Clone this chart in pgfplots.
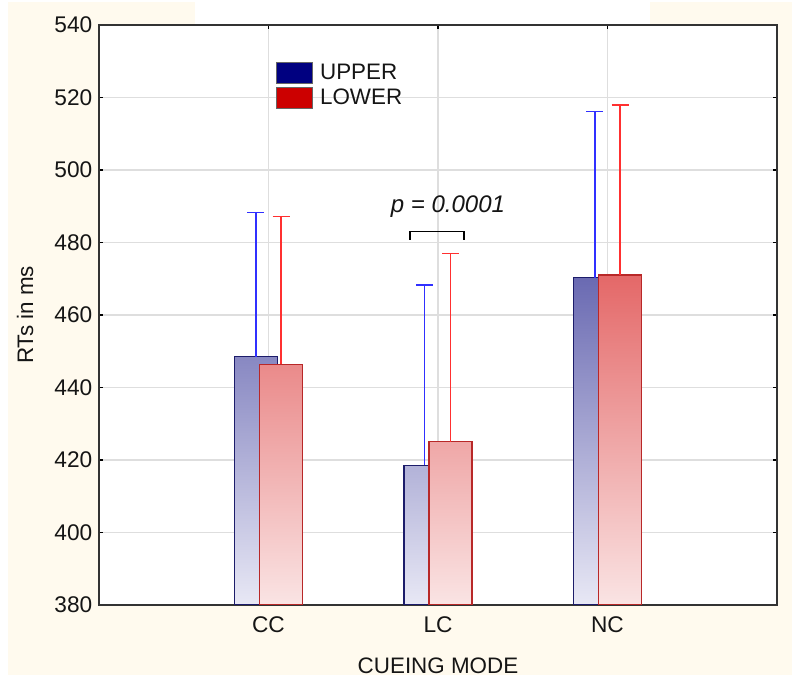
\documentclass[border=0pt]{standalone}
\usepackage{pgfplots}
\pgfplotsset{compat=1.18}
\usepackage{fontspec}
\setmainfont{Liberation Sans}
\definecolor{cream}{HTML}{FFFAEE}
\definecolor{txt}{HTML}{151515}
\definecolor{lnavy}{HTML}{000080}
\definecolor{lred}{HTML}{CC0000}
\definecolor{uedge}{HTML}{1C1C6A}
\definecolor{ledge}{HTML}{B82828}
\definecolor{uerr}{HTML}{3030FF}
\definecolor{lerr}{HTML}{FF3030}
\definecolor{ubot}{RGB}{232,232,245}
\definecolor{lbot}{RGB}{250,228,228}
\definecolor{ucc}{RGB}{136,136,194}
\definecolor{ulc}{RGB}{178,178,216}
\definecolor{unc}{RGB}{106,106,178}
\definecolor{lcc}{RGB}{234,138,138}
\definecolor{llc}{RGB}{239,167,167}
\definecolor{lnc}{RGB}{228,104,104}
\begin{document}
\begin{tikzpicture}
\fill[white] (-74.25pt,-56.25pt) rectangle (519.75pt,453.75pt);
\fill[cream] (-68.25pt,-52.5pt) rectangle (519.75pt,452.25pt);
\fill[white] (72pt,435pt) rectangle (413.25pt,453.75pt);
\begin{axis}[
  scale only axis, width=508.5pt, height=435pt,
  xmin=0, xmax=4, ymin=380, ymax=540,
  xtick={1,2,3}, xticklabels={CC,LC,NC},
  ytick={380,400,...,540},
  grid=major, major grid style={draw=black!13, line width=0.8pt},
  tick align=inside, major tick length=3pt,
  tick style={black, line width=0.8pt},
  axis line style={draw=black!80, line width=1.1pt},
  axis background/.style={fill=white},
  /pgf/number format/assume math mode=true,
  /pgf/number format/set thousands separator={},
  ticklabel style={font=\fontsize{17}{20}\selectfont, text=txt},
  yticklabel style={xshift=-1.5pt},
  xticklabel style={yshift=-5pt},
  xlabel={CUEING MODE}, ylabel={RTs in ms},
  every axis x label/.style={at={(axis description cs:0.5,0)}, anchor=center, yshift=-45.75pt, font=\fontsize{16.8}{19}\selectfont, text=txt},
  every axis y label/.style={at={(axis description cs:0,0.5)}, xshift=-55.5pt, rotate=90, anchor=center, font=\fontsize{16.8}{19}\selectfont, text=txt},
  legend style={at={(0.261,0.936)}, anchor=north west, draw=none, fill=none, inner sep=0pt,
     font=\fontsize{16.8}{19}\selectfont, text=txt, row sep=2.5pt, nodes={inner sep=1.5pt},
     /tikz/every odd column/.append style={column sep=4pt}},
  legend cell align=left,
]
% UPPER bars
\addplot[forget plot, draw=uedge, line width=1.1pt, top color=ucc, bottom color=ubot] coordinates {(0.799,380) (0.799,448.5) (1.053,448.5) (1.053,380)} -- cycle;
\addplot[forget plot, draw=uedge, line width=1.1pt, top color=ulc, bottom color=ubot] coordinates {(1.799,380) (1.799,418.5) (2.053,418.5) (2.053,380)} -- cycle;
\addplot[forget plot, draw=uedge, line width=1.1pt, top color=unc, bottom color=ubot] coordinates {(2.799,380) (2.799,470.3) (3.053,470.3) (3.053,380)} -- cycle;
% LOWER bars
\addplot[forget plot, draw=ledge, line width=1.1pt, top color=lcc, bottom color=lbot] coordinates {(0.947,380) (0.947,446.4) (1.201,446.4) (1.201,380)} -- cycle;
\addplot[forget plot, draw=ledge, line width=1.1pt, top color=llc, bottom color=lbot] coordinates {(1.947,380) (1.947,425.1) (2.201,425.1) (2.201,380)} -- cycle;
\addplot[forget plot, draw=ledge, line width=1.1pt, top color=lnc, bottom color=lbot] coordinates {(2.947,380) (2.947,471.0) (3.201,471.0) (3.201,380)} -- cycle;
% error bars
\addplot[forget plot, draw=none, mark=none,
  error bars/.cd, y dir=plus, y explicit,
  error bar style={draw=uerr, line width=1.2pt},
  error mark options={rotate=90, draw=uerr, line width=1.1pt, mark size=6.4pt}]
  coordinates {(0.926,448.5) +- (0,39.7) (1.921,418.5) +- (0,49.8) (2.926,470.3) +- (0,45.8)};
\addplot[forget plot, draw=none, mark=none,
  error bars/.cd, y dir=plus, y explicit,
  error bar style={draw=lerr, line width=1.2pt},
  error mark options={rotate=90, draw=lerr, line width=1.1pt, mark size=6.4pt}]
  coordinates {(1.074,446.4) +- (0,40.7) (2.074,425.1) +- (0,51.8) (3.074,471.0) +- (0,46.9)};
\addlegendimage{legend image code/.code={\draw[draw=black!60, fill=lnavy] (0pt,-7.9pt) rectangle (27pt,7.9pt);}}
\addlegendentry{UPPER}
\addlegendimage{legend image code/.code={\draw[draw=black!60, fill=lred] (0pt,-7.9pt) rectangle (27pt,7.9pt);}}
\addlegendentry{LOWER}
\draw[black, line width=1.3pt] (axis cs:1.833,480.7) |- (axis cs:2.153,483) -- (axis cs:2.153,480.7);
\node[font=\itshape\fontsize{18}{21}\selectfont, text=txt] at (axis cs:2.059,489.9) {p = 0.0001};
\end{axis}
\pgfresetboundingbox
\useasboundingbox (-74.25pt,-56.25pt) rectangle (519.75pt,453.75pt);
\end{tikzpicture}
\end{document}
